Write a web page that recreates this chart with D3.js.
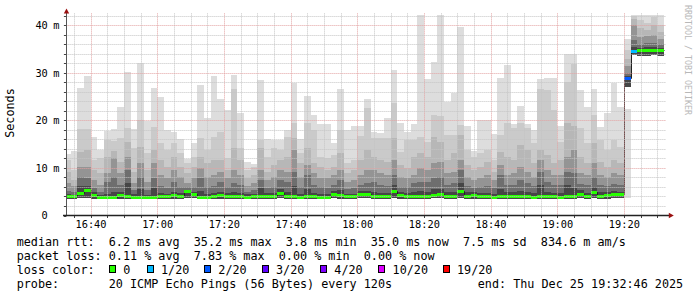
<!DOCTYPE html>
<html><head><meta charset="utf-8">
<script src="https://cdn.jsdelivr.net/npm/d3@7/dist/d3.min.js"></script>
<style>
html,body{margin:0;padding:0;background:#fff;}
svg{display:block;}
text{font-family:"DejaVu Sans Mono",monospace;}
</style></head><body>
<svg id="chart" width="697" height="297"></svg>
<script>
// ---------------- DATA ----------------
const graphStart = "2025-12-25T16:32:46";
const graphEnd   = "2025-12-25T19:32:46";
const firstStep  = "2025-12-25T16:32:00";
const stepSeconds = 120;

// sorted-ping quantiles per 120 s step (ms)
const maxPing = [
13.0,13.5,26.8,29.3,16.5,13.8,17.8,18.2,22.9,30.1,
18.1,32.1,19.8,26.8,24.9,17.9,17.5,16.0,11.9,15.2,
27.5,20.5,29.3,24.4,22.1,29.5,21.5,11.2,10.9,28.4,
16.1,15.8,15.9,17.9,27.9,16.1,25.1,21.1,19.3,19.3,
15.2,26.7,17.9,18.8,18.9,24.6,17.5,17.3,20.4,30.7,
19.5,17.5,19.2,42.1,28.6,32.3,42.1,23.9,25.7,39.6,
18.9,13.5,20.0,20.0,17.1,29.0,31.6,19.3,23.0,19.3,
17.9,28.6,28.9,28.9,18.8,33.9,33.9,26.3,22.8,26.5,
18.6,21.5,27.9,22.8,37.1,42.1,42.1,42.1,42.1,42.1];
const ping19 = [
11.7,9.6,18.2,18.2,11.7,12.0,15.9,15.6,16.2,18.3,
14.1,20.1,13.1,18.7,15.2,13.8,15.2,13.1,11.0,12.4,
16.2,13.8,16.6,17.5,12.0,26.5,14.1,9.6,10.3,15.9,
12.4,14.1,13.8,16.6,19.4,13.1,19.4,18.0,12.4,12.0,
12.7,18.0,11.0,11.7,16.7,22.7,16.2,16.2,16.2,23.7,
13.4,15.9,15.9,16.6,15.5,21.1,21.0,17.0,17.0,19.0,
13.8,12.4,13.1,13.8,11.7,17.0,19.4,18.5,19.4,18.3,
15.2,26.5,26.3,22.2,15.5,28.0,31.9,18.3,15.2,21.2,
15.9,13.8,15.9,14.5,34.8,42.0,41.1,40.5,41.8,40.1];
const ping18 = [
9.2,7.5,13.4,13.8,9.6,9.0,12.4,13.5,11.3,15.5,
9.2,14.5,9.6,13.8,11.7,10.3,12.4,10.3,8.9,10.3,
12.4,11.0,11.7,11.7,9.6,14.1,11.7,7.8,8.5,14.1,
9.2,10.6,11.7,12.4,16.2,11.0,14.1,11.0,10.3,9.6,
10.3,13.1,8.9,9.6,11.7,13.8,12.4,11.7,11.3,16.2,
10.6,9.9,12.4,13.1,12.4,16.6,15.5,11.7,13.1,17.0,
10.6,9.6,10.3,11.3,9.2,13.4,12.4,11.7,14.8,13.8,
11.0,13.8,12.7,11.0,11.7,19.4,18.9,12.4,11.0,15.2,
11.3,10.3,11.7,11.0,33.0,41.3,39.5,39.0,40.0,38.5];
const ping16 = [
6.8,6.2,10.3,10.3,7.5,6.4,8.9,12.0,8.9,12.4,
6.8,11.0,7.1,11.0,8.5,7.8,9.6,8.2,6.8,7.8,
9.9,8.2,8.5,9.2,7.8,9.6,8.5,6.1,6.8,9.6,
7.5,8.2,9.6,9.2,13.8,8.2,10.6,8.9,7.8,7.8,
8.5,9.6,7.1,7.5,8.5,9.6,9.6,8.9,8.5,11.7,
8.2,7.8,8.5,9.9,9.6,11.0,11.3,8.9,9.2,11.7,
8.2,7.5,7.8,8.5,7.5,10.6,8.5,8.9,10.3,9.2,
8.2,11.7,9.6,8.5,8.5,12.4,13.8,8.9,8.5,11.0,
8.5,8.2,8.9,8.5,31.5,40.0,37.5,37.8,38.0,37.2];
const ping14 = [
5.2,5.0,8.2,7.8,5.8,5.0,7.1,8.0,6.5,9.6,
5.4,8.2,5.4,7.8,6.3,5.8,7.1,6.0,5.9,6.0,
7.8,6.0,6.2,7.1,6.0,6.8,6.4,5.0,5.3,7.5,
5.8,6.0,7.5,7.1,9.2,6.0,8.5,6.4,5.9,5.8,
6.5,7.5,5.5,5.7,6.4,6.8,7.1,6.5,6.3,8.5,
6.0,5.9,6.8,7.1,7.1,7.8,8.2,6.5,6.8,9.6,
6.1,5.8,5.9,6.3,5.7,8.5,6.4,6.5,7.5,6.8,
6.2,9.2,7.1,6.4,6.4,9.2,8.9,6.7,6.4,8.2,
6.4,6.2,6.6,6.4,30.0,37.0,36.0,36.2,36.3,36.0];
const ping12 = [
4.5,4.4,6.1,6.2,4.9,4.3,4.6,5.0,5.0,6.8,
4.5,5.5,4.4,5.7,4.8,4.6,5.0,4.7,5.3,5.0,
5.2,4.6,4.8,5.0,4.8,5.0,4.8,4.5,4.6,5.7,
4.7,4.8,5.5,5.0,6.1,4.6,5.6,4.8,4.6,4.6,
5.2,5.3,4.6,4.6,5.2,5.2,5.0,4.8,4.8,6.4,
5.0,4.7,5.0,5.2,5.0,5.5,5.6,4.9,5.0,6.8,
4.9,5.0,4.7,4.7,4.5,5.6,5.0,4.9,5.2,5.0,
4.7,6.4,5.0,4.8,4.8,6.4,5.7,5.3,4.8,6.0,
5.0,5.0,5.1,5.0,29.3,35.5,35.3,35.4,35.4,35.3];
const medianRtt = [
4.0,4.0,4.8,5.4,4.3,3.8,3.8,3.8,4.3,4.05,
3.85,3.85,3.8,3.8,4.0,4.0,4.3,4.0,5.2,4.5,
3.85,3.85,4.0,4.3,4.0,4.2,4.2,3.95,4.1,4.0,
4.15,4.15,4.75,4.0,4.0,3.85,4.0,4.0,3.85,3.85,
4.55,4.3,4.0,4.0,4.6,4.45,4.0,4.0,4.0,5.05,
4.3,4.0,4.1,4.15,4.15,4.35,4.6,4.15,4.15,5.2,
4.15,4.3,4.0,4.0,3.9,4.0,4.2,4.0,4.0,4.2,
3.95,4.2,4.0,4.0,3.9,4.0,4.0,4.55,4.0,5.0,
4.2,4.35,4.6,4.45,28.9,34.6,34.9,34.9,34.9,34.9];
const minPing = [
3.5,3.5,3.6,3.6,3.5,3.4,3.4,3.4,3.5,3.5,
3.4,3.4,3.4,3.4,3.5,3.5,3.5,3.5,3.7,3.6,
3.4,3.4,3.5,3.5,3.5,3.5,3.5,3.4,3.5,3.5,
3.5,3.5,3.6,3.5,3.4,3.4,3.5,3.5,3.4,3.4,
3.6,3.5,3.5,3.5,3.6,3.6,3.5,3.5,3.5,3.6,
3.5,3.5,3.5,3.5,3.5,3.6,3.6,3.5,3.5,3.7,
3.5,3.5,3.5,3.5,3.4,3.5,3.5,3.5,3.5,3.5,
3.4,3.5,3.5,3.5,3.4,3.5,3.5,3.6,3.5,3.6,
3.5,3.5,3.6,3.6,27.0,33.7,33.5,33.6,33.7,33.5];
// lost pings (of 20) per step
const lossCount = [
0,0,0,0,0,0,0,0,0,0,
0,0,0,0,0,0,0,0,0,0,
0,0,0,0,0,0,0,0,0,0,
0,0,0,0,0,0,0,0,0,0,
0,0,0,0,0,0,0,0,0,0,
0,0,0,0,0,0,0,0,0,0,
0,0,0,0,0,0,0,0,0,0,
0,0,0,0,0,0,0,0,0,0,
0,0,0,0,2,1,0,0,0,0];
// extra faint smoke at the level change
const ghostStep = ["2025-12-25T19:20:00"];
const ghostMin = [3.6];
const ghostMax = [22.3];

const lossLabels = ["0","1/20","2/20","3/20","4/20","10/20","19/20"];
const lossThresh = [0,1,2,3,4,10,19];
const lossColors = ["#26ff00","#00b8ff","#0059ff","#5e00ff","#7e00ff","#dd00ff","#ff0000"];
const yTicks = [0,10,20,30,40];

const statLine1 = "median rtt:  6.2 ms avg  35.2 ms max  3.8 ms min  35.0 ms now  7.5 ms sd  834.6 m am/s";
const statLine2 = "packet loss: 0.11 % avg  7.83 % max  0.00 % min  0.00 % now";
const statLine3 = "loss color:";
const probeLine = "probe:       20 ICMP Echo Pings (56 Bytes) every 120s";
const endLine = "end: Thu Dec 25 19:32:46 2025";

// ---------------- DRAW ----------------
const svg = d3.select("#chart");
const parse = s => new Date(s);
const t0 = parse(graphStart), t1 = parse(graphEnd);
const L = 66.4, R = 666.4, T = 13.4, B = 215.5;
const x = d3.scaleTime().domain([t0, t1]).range([L, R]);
const y = d3.scaleLinear().domain([0, 42.5]).range([B, T]);

const step0 = parse(firstStep).getTime();
const steps = medianRtt.map((m, i) => {
  const a = new Date(step0 + i * stepSeconds * 1000);
  const b = new Date(step0 + (i + 1) * stepSeconds * 1000);
  return {a, b, i};
});

svg.append("defs").append("clipPath").attr("id", "plot")
  .append("rect").attr("x", L).attr("y", T).attr("width", R - L).attr("height", B - T);

const plot = svg.append("g").attr("clip-path", "url(#plot)");

const bands = [
  {top: maxPing, color: "#dddddd"},
  {top: ping19, color: "#cacaca"},
  {top: ping18, color: "#b7b7b7"},
  {top: ping16, color: "#949494"},
  {top: ping14, color: "#6e6e6e"},
  {top: ping12, color: "#464646"}
];
const px = v => Math.round(v);

// ghost smoke
plot.append("g").selectAll("rect").data(ghostStep).join("rect")
  .attr("x", (d) => px(x(parse(d))))
  .attr("width", (d) => px(x(new Date(parse(d).getTime() + stepSeconds * 1000))) - px(x(parse(d))))
  .attr("y", (d, i) => y(ghostMax[i]))
  .attr("height", (d, i) => y(ghostMin[i]) - y(ghostMax[i]))
  .attr("fill", "#dddddd").attr("shape-rendering", "crispEdges");

bands.forEach(bd => {
  plot.append("g").selectAll("rect").data(steps).join("rect")
    .attr("x", d => px(x(d.a)))
    .attr("width", d => px(x(d.b)) - px(x(d.a)))
    .attr("y", d => y(bd.top[d.i]))
    .attr("height", d => Math.max(0, y(minPing[d.i]) - y(bd.top[d.i])))
    .attr("fill", bd.color)
    .attr("shape-rendering", "crispEdges");
});

// grid
const gridG = svg.append("g");
const minorTimes = d3.timeMinute.every(5).range(t0, t1);
minorTimes.forEach(t => {
  const major = t.getMinutes() % 20 === 0;
  const xx = Math.round(x(t)) + 0.5;
  gridG.append("line").attr("x1", xx).attr("x2", xx).attr("y1", T).attr("y2", B)
    .attr("stroke", major ? "#e3a2a2" : "#c4c4c4").attr("stroke-width", 1)
    .attr("stroke-dasharray", "1,1");
});
d3.range(2, 43, 2).forEach(v => {
  const major = v % 10 === 0;
  const yy = Math.round(y(v)) + 0.5;
  gridG.append("line").attr("x1", L).attr("x2", R).attr("y1", yy).attr("y2", yy)
    .attr("stroke", major ? "#e3a2a2" : "#c4c4c4").attr("stroke-width", 1)
    .attr("stroke-dasharray", "1,1");
});

// median line
const medPts = steps.map(d => [d.a, medianRtt[d.i]]);
medPts.push([steps[steps.length - 1].b, medianRtt[medianRtt.length - 1]]);
plot.append("path").datum(medPts)
  .attr("d", d3.line().x(d => Math.round(x(d[0])) + 0.5).y(d => Math.round(y(d[1])) + 0.5).curve(d3.curveStepAfter))
  .attr("fill", "none").attr("stroke", "#202020").attr("stroke-width", 1);

const lossColor = n => {
  let c = lossColors[0];
  lossThresh.forEach((th, k) => { if (n >= th) c = lossColors[k]; });
  return c;
};
plot.append("g").selectAll("rect").data(steps).join("rect")
  .attr("x", d => px(x(d.a)))
  .attr("width", d => px(x(d.b)) - px(x(d.a)))
  .attr("y", d => Math.round(y(medianRtt[d.i])) - 1)
  .attr("height", 3)
  .attr("fill", d => lossColor(lossCount[d.i]))
  .attr("shape-rendering", "crispEdges");

// axes
const majorTimes = d3.timeMinute.every(20).range(t0, t1);
const xAxis = svg.append("g").attr("transform", `translate(0,${B})`)
  .call(d3.axisBottom(x).tickValues(majorTimes).tickFormat(d3.timeFormat("%H:%M")).tickSize(0).tickPadding(5.6));
xAxis.select(".domain").remove();
xAxis.selectAll("text").attr("font-size", "10.3px").attr("font-family", "DejaVu Sans Mono").attr("fill", "#000");

const yAxis = svg.append("g").attr("transform", `translate(${L},0)`)
  .call(d3.axisLeft(y).tickValues(yTicks).tickFormat(d => d).tickSize(0).tickPadding(18.6));
yAxis.select(".domain").remove();
yAxis.selectAll("text").attr("font-size", "10.3px").attr("font-family", "DejaVu Sans Mono").attr("fill", "#000");
yAxis.selectAll(".tick").filter(d => d !== 0).append("text")
  .attr("x", -13.2).attr("dy", "0.32em").attr("text-anchor", "start")
  .attr("font-size", "10.3px").attr("font-family", "DejaVu Sans Mono").attr("fill", "#000").text("m");

// small ticks
const tickG = svg.append("g").attr("stroke", "#444").attr("stroke-width", 1);
d3.range(0, 43, 2).forEach(v => {
  const yy = Math.round(y(v)) + 0.5;
  tickG.append("line").attr("x1", L - 2.5).attr("x2", L).attr("y1", yy).attr("y2", yy);
});
minorTimes.forEach(t => {
  const xx = Math.round(x(t)) + 0.5;
  tickG.append("line").attr("x1", xx).attr("x2", xx).attr("y1", B).attr("y2", B + 2.5);
});

// axis lines & arrows
svg.append("line").attr("x1", 66.5).attr("x2", 66.5).attr("y1", 12).attr("y2", 215.5)
  .attr("stroke", "#555").attr("stroke-width", 1);
svg.append("line").attr("x1", 63).attr("x2", 670).attr("y1", 215.5).attr("y2", 215.5)
  .attr("stroke", "#222").attr("stroke-width", 1.5);
svg.append("path").attr("d", "M66.5,8.5 L63.8,13.6 L69.2,13.6 Z").attr("fill", "#9a1010");
svg.append("path").attr("d", "M673.8,215.5 L668.8,212.8 L668.8,218.2 Z").attr("fill", "#9a1010");

// y label
svg.append("text").attr("transform", "translate(13.6,113) rotate(-90)")
  .attr("text-anchor", "middle").attr("font-size", "11.78px").attr("fill", "#000").text("Seconds");

// watermark
svg.append("text").attr("transform", "translate(685,5) rotate(90)")
  .attr("font-size", "8.3px").attr("fill", "#b8b8b8").text("RRDTOOL / TOBI OETIKER");

// legend
const cw = 7.093, lx = 16.7, fs = "11.78px";
const leg = svg.append("g").attr("font-size", fs).attr("fill", "#000");
const addLine = (txt, xx, yy) => leg.append("text").attr("x", xx).attr("y", yy)
  .style("white-space", "pre").attr("xml:space", "preserve").text(txt);
addLine(statLine1, lx, 246.3);
addLine(statLine2, lx, 260.1);
addLine(statLine3, lx, 273.9);
addLine(probeLine, lx, 287.7);
addLine(endLine, lx + 65 * cw, 287.7);

const boxX = [109, 146.7, 204, 261.7, 320, 378.3, 442.7];
lossLabels.forEach((lab, k) => {
  leg.append("rect").attr("x", Math.round(boxX[k]) + 0.5).attr("y", 265.5).attr("width", 6).attr("height", 7)
    .attr("fill", lossColors[k]).attr("stroke", "#000").attr("stroke-width", 1);
  leg.append("text").attr("x", boxX[k] + 14.3).attr("y", 273.9).text(lab);
});
</script>
</body></html>
